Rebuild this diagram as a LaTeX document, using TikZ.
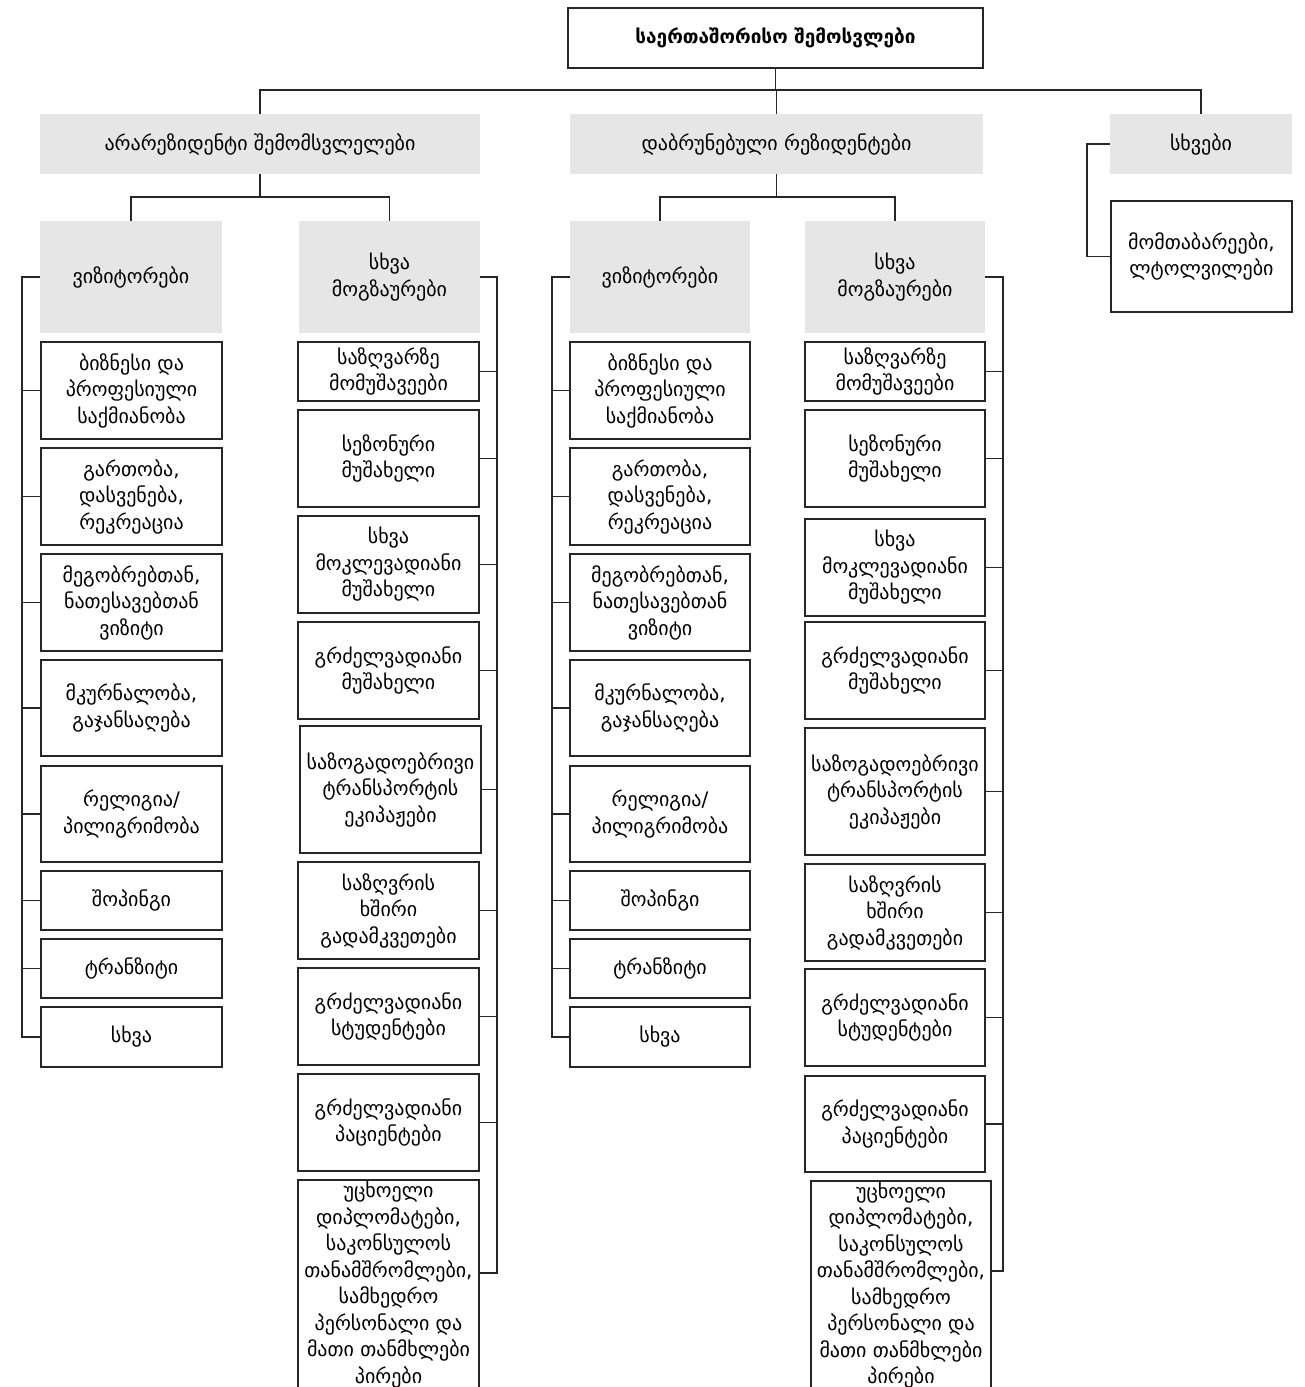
\documentclass[tikz,border=0pt]{standalone}
\usepackage{fontspec}
\newfontfamily\geo{DejaVu Sans}
\definecolor{boxgray}{HTML}{E6E6E6}
\definecolor{linec}{HTML}{262626}
\newcommand\gfont{\geo\fontsize{20}{26.5}\selectfont}
\newcommand\mkbox[7]{%
  \node[#2, minimum width={#5-#3}, minimum height={#6-#4}] (#1) at ({(#3+#5)/2},{(#4+#6)/2}) {#7};}
\tikzset{
  gbox/.style={fill=boxgray, draw=none, inner sep=0pt, outer sep=0pt, align=center, font=\gfont},
  wbox/.style={draw=linec, line width=1.5pt, fill=white, inner sep=0pt, outer sep=0pt, align=center, font=\gfont},
  conn/.style={draw=linec, line width=1.3pt}
}
\begin{document}
\begin{tikzpicture}[x=1pt,y=-1pt]
\useasboundingbox (0,0) rectangle (1304,1387);
% top
\mkbox{root}{wbox}{568}{8}{983}{68}{\fontsize{19}{24}\selectfont\bfseries საერთაშორისო შემოსვლები}
\mkbox{A}{gbox}{40}{114}{480}{174}{არარეზიდენტი შემომსვლელები}
\mkbox{B}{gbox}{570}{114}{983}{174}{დაბრუნებული რეზიდენტები}
\mkbox{C}{gbox}{1110}{114}{1292}{174}{სხვები}
\mkbox{C1}{wbox}{1111}{201}{1292}{312}{მომთაბარეები,\\ლტოლვილები}
\mkbox{A1}{gbox}{40}{221}{222}{333}{ვიზიტორები}
\mkbox{A2}{gbox}{299}{221}{480}{333}{სხვა\\მოგზაურები}
\mkbox{B1}{gbox}{570}{221}{750}{333}{ვიზიტორები}
\mkbox{B2}{gbox}{805}{221}{985}{333}{სხვა\\მოგზაურები}
% visitors (A)
\mkbox{a1}{wbox}{41}{342}{222}{439}{ბიზნესი და\\პროფესიული\\საქმიანობა}
\mkbox{a2}{wbox}{41}{448}{222}{545}{გართობა,\\დასვენება,\\რეკრეაცია}
\mkbox{a3}{wbox}{41}{554}{222}{651}{მეგობრებთან,\\ნათესავებთან\\ვიზიტი}
\mkbox{a4}{wbox}{41}{660}{222}{756}{მკურნალობა,\\გაჯანსაღება}
\mkbox{a5}{wbox}{41}{766}{222}{862}{რელიგია/\\პილიგრიმობა}
\mkbox{a6}{wbox}{41}{871}{222}{930}{შოპინგი}
\mkbox{a7}{wbox}{41}{939}{222}{998}{ტრანზიტი}
\mkbox{a8}{wbox}{41}{1007}{222}{1067}{სხვა}
% visitors (B)
\mkbox{b1}{wbox}{570}{342}{750}{439}{ბიზნესი და\\პროფესიული\\საქმიანობა}
\mkbox{b2}{wbox}{570}{448}{750}{545}{გართობა,\\დასვენება,\\რეკრეაცია}
\mkbox{b3}{wbox}{570}{554}{750}{651}{მეგობრებთან,\\ნათესავებთან\\ვიზიტი}
\mkbox{b4}{wbox}{570}{660}{750}{756}{მკურნალობა,\\გაჯანსაღება}
\mkbox{b5}{wbox}{570}{766}{750}{862}{რელიგია/\\პილიგრიმობა}
\mkbox{b6}{wbox}{570}{871}{750}{930}{შოპინგი}
\mkbox{b7}{wbox}{570}{939}{750}{998}{ტრანზიტი}
\mkbox{b8}{wbox}{570}{1007}{750}{1067}{სხვა}
% other travellers (A)
\mkbox{o1}{wbox}{298}{342}{479}{401}{საზღვარზე\\მომუშავეები}
\mkbox{o2}{wbox}{298}{410}{479}{507}{სეზონური\\მუშახელი}
\mkbox{o3}{wbox}{298}{516}{479}{613}{სხვა\\მოკლევადიანი\\მუშახელი}
\mkbox{o4}{wbox}{298}{622}{479}{719}{გრძელვადიანი\\მუშახელი}
\mkbox{o5}{wbox}{300}{726}{481}{853}{საზოგადოებრივი\\ტრანსპორტის\\ეკიპაჟები}
\mkbox{o6}{wbox}{298}{862}{479}{959}{საზღვრის\\ხშირი\\გადამკვეთები}
\mkbox{o7}{wbox}{298}{968}{479}{1065}{გრძელვადიანი\\სტუდენტები}
\mkbox{o8}{wbox}{298}{1074}{479}{1171}{გრძელვადიანი\\პაციენტები}
\mkbox{o9}{wbox}{298}{1180}{479}{1389}{უცხოელი\\დიპლომატები,\\საკონსულოს\\თანამშრომლები,\\სამხედრო\\პერსონალი და\\მათი თანმხლები\\პირები}
% other travellers (B)
\mkbox{p1}{wbox}{805}{342}{985}{401}{საზღვარზე\\მომუშავეები}
\mkbox{p2}{wbox}{805}{410}{985}{507}{სეზონური\\მუშახელი}
\mkbox{p3}{wbox}{805}{519}{985}{616}{სხვა\\მოკლევადიანი\\მუშახელი}
\mkbox{p4}{wbox}{805}{622}{985}{719}{გრძელვადიანი\\მუშახელი}
\mkbox{p5}{wbox}{805}{728}{985}{855}{საზოგადოებრივი\\ტრანსპორტის\\ეკიპაჟები}
\mkbox{p6}{wbox}{805}{864}{985}{961}{საზღვრის\\ხშირი\\გადამკვეთები}
\mkbox{p7}{wbox}{805}{969}{985}{1066}{გრძელვადიანი\\სტუდენტები}
\mkbox{p8}{wbox}{805}{1076}{985}{1172}{გრძელვადიანი\\პაციენტები}
\mkbox{p9}{wbox}{811}{1181}{991}{1389}{უცხოელი\\დიპლომატები,\\საკონსულოს\\თანამშრომლები,\\სამხედრო\\პერსონალი და\\მათი თანმხლები\\პირები}
% coordinates for buses and brackets
\coordinate (bus0) at (775,90);
\coordinate (busA) at (260,197);
\coordinate (busB) at (776,197);
\coordinate (vA) at (22,0);
\coordinate (vB) at (552,0);
\coordinate (rA) at (497,0);
\coordinate (rB) at (1003,0);
\coordinate (vC) at (1087,0);
% connectors
\draw[conn] (root.south) -- (root.south |- bus0);
\draw[conn] (A.north) |- (bus0) -| (C.north);
\draw[conn] (B.north) -- (B.north |- bus0);
\draw[conn] (A.south) -- (A.south |- busA);
\draw[conn] (A1.north) |- (busA) -| (A2.north);
\draw[conn] (B.south) -- (B.south |- busB);
\draw[conn] (B1.north) |- (busB) -| (B2.north);
% C bracket
\draw[conn] (C.west) -- (C.west -| vC) -- (vC |- C1.west) -- (C1.west);
% visitor brackets
\draw[conn] (A1.west) -- (A1.west -| vA) -- (vA |- a8.west) -- (a8.west);
\foreach \n in {a1,a2,a3,a4,a5,a6,a7} \draw[conn] (\n.west) -- (\n.west -| vA);
\draw[conn] (B1.west) -- (B1.west -| vB) -- (vB |- b8.west) -- (b8.west);
\foreach \n in {b1,b2,b3,b4,b5,b6,b7} \draw[conn] (\n.west) -- (\n.west -| vB);
% other-traveller brackets
\coordinate (o9t) at ([yshift=11.5pt]o9.east);
\coordinate (p9t) at ([yshift=14pt]p9.east);
\draw[conn] (A2.east) -- (A2.east -| rA) -- (rA |- o9t) -- (o9t);
\foreach \n in {o1,o2,o3,o4,o5,o6,o7,o8} \draw[conn] (\n.east) -- (\n.east -| rA);
\draw[conn] (B2.east) -- (B2.east -| rB) -- (rB |- p9t) -- (p9t);
\foreach \n in {p1,p2,p3,p4,p5,p6,p7,p8} \draw[conn] (\n.east) -- (\n.east -| rB);
\end{tikzpicture}
\end{document}
